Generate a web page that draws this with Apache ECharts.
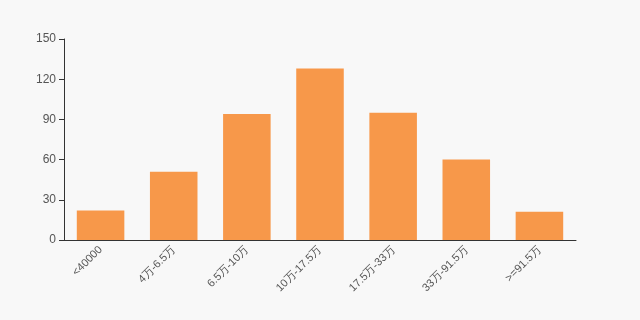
<!DOCTYPE html>
<html><head><meta charset="utf-8">
<script src="https://cdn.jsdelivr.net/npm/echarts@6/dist/echarts.min.js"></script>
<style>html,body{margin:0;padding:0;background:#f8f8f8}#c{width:640px;height:320px}</style>
</head><body><div id="c"></div>
<script>
var categories = ['<40000','4万-6.5万','6.5万-10万','10万-17.5万','17.5万-33万','33万-91.5万','>=91.5万'];
var values = [22, 51, 94, 128, 95, 60, 21];
var yTicks = [0, 30, 60, 90, 120, 150];
var chart = echarts.init(document.getElementById('c'));
chart.setOption({
  backgroundColor: '#f8f8f8',
  animation: false,
  grid: {left: 64, right: 64, top: 39, bottom: 80},
  xAxis: {
    type: 'category', data: categories,
    axisLine: {lineStyle: {color: '#333'}},
    axisTick: {lineStyle: {color: '#333'}},
    axisLabel: {rotate: 45, color: '#555', fontSize: 11, interval: 0, fontFamily: 'sans-serif'}
  },
  yAxis: {
    type: 'value', min: yTicks[0], max: yTicks[yTicks.length-1], interval: 30,
    splitLine: {show: false},
    axisLine: {show: true, lineStyle: {color: '#333'}},
    axisTick: {show: true, lineStyle: {color: '#333'}},
    axisLabel: {color: '#555', fontSize: 12, fontFamily: 'sans-serif'}
  },
  series: [{type: 'bar', data: values, barWidth: '65%', itemStyle: {color: '#f7984a'}}]
});
</script></body></html>
